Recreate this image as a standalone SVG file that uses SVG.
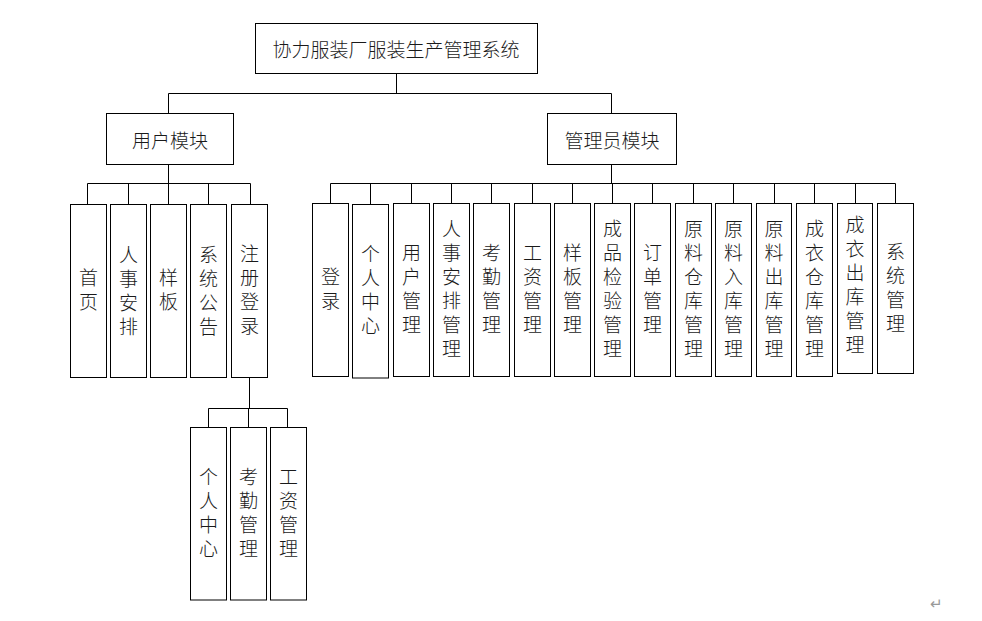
<svg xmlns="http://www.w3.org/2000/svg" width="982" height="621" viewBox="0 0 982 621">
<style>
rect{fill:#fff;stroke:#000;stroke-width:1}
.c path{fill:none;stroke:#000;stroke-width:1}
text{font-family:"Noto Sans CJK SC","Noto Sans CJK JP",sans-serif;font-size:19px;fill:#1a1a1a;text-anchor:middle;dominant-baseline:central;font-weight:300}
.v{writing-mode:vertical-rl;text-orientation:upright;letter-spacing:5px}
</style>
<rect x="0" y="0" width="982" height="621" style="stroke:none;fill:#fff"/>
<g class="c" id="connectors">
<path d="M396.5 73.5V93.5M168.5 93.5H611.5M168.5 93.5V113.5M611.5 93.5V113.5"/>
<path d="M168.5 164.5V183.5M87.5 183.5H250.5M87.5 183.5V204.5M128.5 183.5V204.5M168.5 183.5V204.5M208.5 183.5V204.5M250.5 183.5V204.5"/>
<path d="M611.5 164.5V183.5M330.5 183.5H895.5M330.5 183.5V203.5M370.5 183.5V204.5M411.5 183.5V203.5M451.5 183.5V203.5M491.5 183.5V203.5M532.5 183.5V203.5M572.5 183.5V203.5M612.5 183.5V203.5M652.5 183.5V203.5M693.5 183.5V203.5M733.5 183.5V203.5M774.5 183.5V203.5M814.5 183.5V203.5M855.5 183.5V203.5M895.5 183.5V203.5"/>
<path d="M249.5 377.5V408.5M208.5 408.5H287.5M208.5 408.5V427.5M248.5 408.5V427.5M287.5 408.5V427.5"/>
</g>
<g id="root"><rect x="255.5" y="23.5" width="282" height="50"/><text x="396" y="48">协力服装厂服装生产管理系统</text></g>
<g id="user"><rect x="106.5" y="113.5" width="127" height="51"/><text x="170" y="139">用户模块</text></g>
<g id="admin"><rect x="547.5" y="113.5" width="129" height="51"/><text x="612" y="139">管理员模块</text></g>

<g id="u1"><rect x="70.5" y="204.5" width="36" height="173"/><text class="v" x="88.5" y="292.5">首页</text></g>
<g id="u2"><rect x="110.5" y="204.5" width="36" height="173"/><text class="v" x="128.5" y="293">人事安排</text></g>
<g id="u3"><rect x="150.5" y="204.5" width="36" height="173"/><text class="v" x="168.5" y="292.5">样板</text></g>
<g id="u4"><rect x="190.5" y="204.5" width="36" height="173"/><text class="v" x="208.5" y="293.5">系统公告</text></g>
<g id="u5"><rect x="231.5" y="204.5" width="36" height="173"/><text class="v" x="249.5" y="292.5">注册登录</text></g>

<g id="s1"><rect x="190.5" y="427.5" width="36" height="172.5"/><text class="v" x="208.5" y="515">个人中心</text></g>
<g id="s2"><rect x="230.5" y="427.5" width="36" height="172.5"/><text class="v" x="248.5" y="515.5">考勤管理</text></g>
<g id="s3"><rect x="270.5" y="427.5" width="36" height="172.5"/><text class="v" x="288.5" y="515.5">工资管理</text></g>

<g id="a1"><rect x="312.5" y="203.5" width="36" height="173"/><text class="v" x="330.5" y="291.5">登录</text></g>
<g id="a2"><rect x="352.5" y="204.5" width="36" height="173.5"/><text class="v" x="370.5" y="292">个人中心</text></g>
<g id="a3"><rect x="393.5" y="203.5" width="36" height="173"/><text class="v" x="411.5" y="291.5">用户管理</text></g>
<g id="a4"><rect x="433.5" y="203.5" width="36" height="173"/><text class="v" x="451.5" y="291.5">人事安排管理</text></g>
<g id="a5"><rect x="473.5" y="203.5" width="36" height="173"/><text class="v" x="491.5" y="291.5">考勤管理</text></g>
<g id="a6"><rect x="514.5" y="203.5" width="36" height="173"/><text class="v" x="532.5" y="291.5">工资管理</text></g>
<g id="a7"><rect x="554.5" y="203.5" width="36" height="173"/><text class="v" x="572.5" y="291.5">样板管理</text></g>
<g id="a8"><rect x="594.5" y="203.5" width="36" height="173"/><text class="v" x="612.5" y="291.5">成品检验管理</text></g>
<g id="a9"><rect x="634.5" y="203.5" width="36" height="173"/><text class="v" x="652.5" y="291.5">订单管理</text></g>
<g id="a10"><rect x="675.5" y="203.5" width="36" height="173"/><text class="v" x="693.5" y="291.5">原料仓库管理</text></g>
<g id="a11"><rect x="715.5" y="203.5" width="36" height="173"/><text class="v" x="733.5" y="291.5">原料入库管理</text></g>
<g id="a12"><rect x="756.5" y="203.5" width="35" height="173"/><text class="v" x="774" y="291.5">原料出库管理</text></g>
<g id="a13"><rect x="796.5" y="203.5" width="36" height="173"/><text class="v" x="814.5" y="291.5">成衣仓库管理</text></g>
<g id="a14"><rect x="837.5" y="203.5" width="35" height="170"/><text class="v" x="855" y="287.5">成衣出库管理</text></g>
<g id="a15"><rect x="877.5" y="203.5" width="36" height="170"/><text class="v" x="895.5" y="290">系统管理</text></g>

<text x="936" y="604" style="font-family:'DejaVu Sans',sans-serif;font-size:15px;fill:#999">↵</text>
</svg>
